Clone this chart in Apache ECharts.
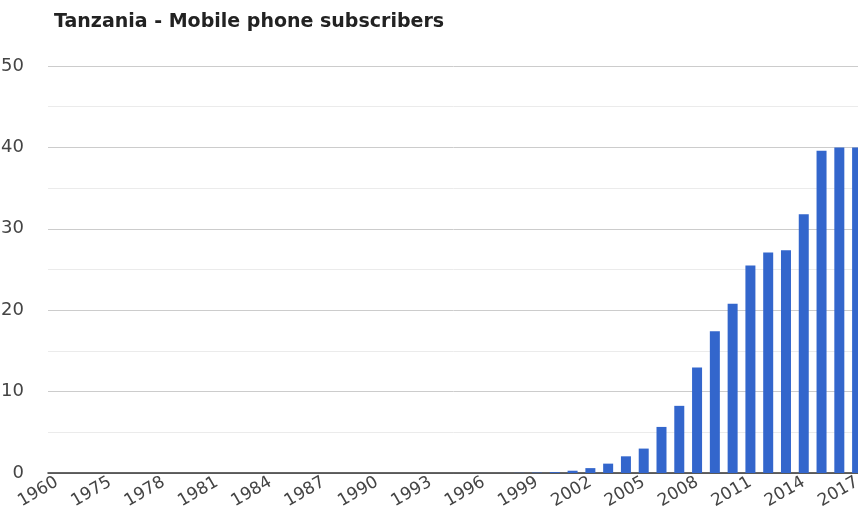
<!DOCTYPE html>
<html>
<head>
<meta charset="utf-8">
<script src="https://cdn.jsdelivr.net/npm/echarts@6/dist/echarts.min.js"></script>
<style>
  html, body { margin: 0; padding: 0; background: #fff; }
  #main { width: 858px; height: 531px; }
</style>
</head>
<body>
<div id="main"></div>
<script>
// 年份（1960, 1965, 1970 之后逐年）
var years = ['1960', '1965', '1970'];
for (var y = 1975; y <= 2017; y++) years.push(String(y));

// 移动电话用户（百万）
var early = [0, 0, 0,                                   // 1960, 1965, 1970
    0, 0, 0, 0, 0, 0, 0, 0, 0, 0,                       // 1975 .. 1984
    0, 0, 0, 0, 0, 0, 0, 0, 0, 0,                       // 1985 .. 1994
    0.003, 0.004, 0.004, 0.02, 0.05, 0.11];             // 1995 .. 2000
var recent = [0.28, 0.6, 1.15, 2.05, 3.0, 5.66, 8.25, 12.96, 17.4, 20.8,
    25.5, 27.1, 27.35, 31.8, 39.6, 40.0, 40.0];         // 2001 .. 2017
var subscribers = early.concat(recent);

var yTicks = { min: 0, max: 50, step: 10 };

var myChart = echarts.init(document.getElementById('main'));

var option = {
    animation: false,
    textStyle: { fontFamily: '"DejaVu Sans", sans-serif' },
    title: {
        text: 'Tanzania - Mobile phone subscribers',
        left: 49,
        top: 8,
        textStyle: {
            fontFamily: '"DejaVu Sans", sans-serif',
            fontSize: 19,
            fontWeight: 'bold',
            color: '#222'
        }
    },
    // 原图右侧被裁掉一截，所以绘图区比画布略宽
    grid: {
        left: 48,
        width: 818,
        top: 66,
        bottom: 58,
        containLabel: false,
        outerBoundsMode: 'none'
    },
    xAxis: {
        type: 'category',
        data: years,
        axisLine: { show: true, lineStyle: { color: '#333', width: 1.5 } },
        axisTick: { show: false },
        axisLabel: {
            interval: 2,
            rotate: 30,
            margin: 8,
            fontSize: 17,
            color: '#444'
        }
    },
    yAxis: {
        type: 'value',
        min: yTicks.min,
        max: yTicks.max,
        interval: yTicks.step,
        axisLine: { show: false },
        axisTick: { show: false },
        axisLabel: { fontSize: 18, color: '#444', margin: 24 },
        splitLine: { lineStyle: { color: '#cccccc' } },
        minorTick: { show: false, splitNumber: 2 },
        minorSplitLine: { show: true, lineStyle: { color: '#ebebeb' } }
    },
    series: [
        {
            name: 'Mobile phone subscribers',
            type: 'bar',
            data: subscribers,
            barWidth: 10,
            itemStyle: { color: '#3366cc' }
        }
    ]
};

myChart.setOption(option);
</script>
</body>
</html>
